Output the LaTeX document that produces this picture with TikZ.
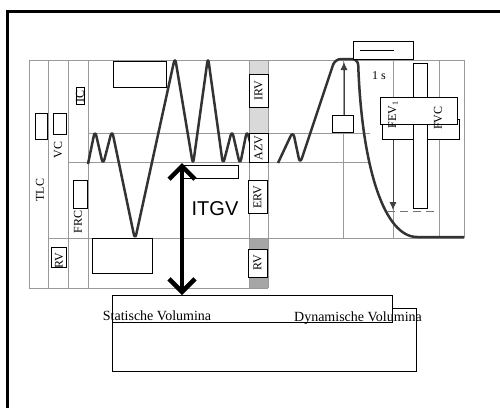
\documentclass[tikz,border=0pt]{standalone}
\usepackage{fontspec}
\setmainfont{Liberation Serif}
\newfontfamily\itgvfont{Liberation Sans}
\usetikzlibrary{arrows.meta}

\begin{document}
\begin{tikzpicture}[x=1pt, y=-1pt, font=\fontsize{12}{14}\selectfont,
                    >={Latex[length=8pt,width=7pt]}]
  \tikzset{grid/.style={draw=black!40, line width=0.7pt},
           blank/.style={draw, fill=white, line width=0.7pt, inner sep=0pt},
           vlab/.style={rotate=90, inner sep=0pt},
           vbox/.style={blank, rotate=90, minimum width=#1, minimum height=19pt},
           breath/.style={draw=black!80, line width=2.5pt, rounded corners=6pt,
                          line join=round}}
  \useasboundingbox (0,0) rectangle (500,407);
  % frame, cut off at the right and at the bottom
  \draw[line width=3pt] (7,412) -- (7,11) -- (505,11);

  % shaded parts of the volume strip
  \fill[black!15] (249,60) rectangle (268,74) (249,107) rectangle (268,133);
  \fill[black!35] (249,238) rectangle (268,249) (249,277) rectangle (268,288);

  % grid
  \draw[grid] (29,60) -- (464,60);
  \draw[grid] (88,133) -- (370,133);
  \draw[grid] (68,162) -- (370,162);
  \draw[grid] (48,238) -- (464,238);
  \draw[grid] (29,288) -- (268,288);
  \foreach \x in {29,48,68,88,249,268} \draw[grid] (\x,60) -- (\x,288);
  \foreach \x in {343,393,439,464} \draw[grid] (\x,60) -- (\x,238);

  % left columns
  \draw[blank] (35,113) rectangle (47,139);
  \node[vlab] (tlc) at (40,190) {TLC};
  \draw[blank] (53,113) rectangle (66,134);
  \node[vlab] (vc) at (58,150) {VC};
  \draw[blank] (51,247) rectangle (66,267);
  \node[vlab] (rvleft) at (59,261) {RV};
  \node[blank, rotate=90, minimum width=17pt, minimum height=8pt] (ic) at (80,96) {IC};
  \draw[blank] (73,180) rectangle (87,208);
  \node[vlab] (frc) at (78,222) {FRC};

  % static spirogram
  \draw[blank] (113,61) rectangle (166,87);
  \draw[blank] (92,238) rectangle (152,273);
  \draw[breath] (88,164) -- (95,130) -- (103,165) -- (112,130) -- (135,240)
    -- (175,57) -- (193,165) -- (208,57) -- (223,165) -- (232,130)
    -- (240,165) -- (247,130) -- (250,142);
  \draw[blank] (183,165) rectangle (238,178);

  \node[vbox=33pt] (irv) at (258.5,90.5) {IRV};
  \node[vbox=29pt] (azv) at (258.5,148) {AZV};
  \node[vbox=33pt] (erv) at (257.5,197) {ERV};
  \node[vbox=28pt] (rv) at (257.5,263) {RV};

  % forced expiration
  \draw[breath] (278,163) -- (293,131) -- (300,164) -- (335,59) -- (358,59)
    .. controls (362,170) and (385,237) .. (423,237) -- (464,237);
  \node[blank, minimum width=21pt, minimum height=17pt] (sq) at (342.5,123.5) {};
  \coordinate (peak) at (344,62);
  \draw[->, black!75, line width=0.8pt] (sq.north -| peak) -- (peak);

  \node[blank, anchor=north west, minimum width=60pt, minimum height=18pt] (scale) at (353,41) {};
  \draw[line width=1pt] ([xshift=7pt]scale.west) -- ([xshift=41pt]scale.west);
  \node (onesec) at (379,76) {1 s};

  \node[blank, anchor=north west, minimum width=77pt, minimum height=20pt] (fevback) at (382,119) {};
  \draw[blank] (413,63) rectangle (427,208);
  \node[blank, anchor=north west, minimum width=77pt, minimum height=27pt] (fevbox) at (380,97) {};
  \node[vlab] (fev) at (393,115) {FEV\textsubscript{1}};
  \node[vlab] (fvc) at (438,118) {FVC};
  \coordinate (fevend) at (393,210);
  \draw[->, black!75, line width=0.8pt] (fevend |- fevback.south) -- (fevend);
  \draw[black!55, dash pattern=on 8pt off 5pt, line width=0.8pt] (387,211) -- (438,211);

  % legend boxes
  \node[blank, anchor=north west, minimum width=304pt, minimum height=63pt] (dyn) at (112,308) {};
  \node[blank, anchor=north west, minimum width=280pt, minimum height=27pt] (stat) at (112,295) {};

  \coordinate (itgvtop) at (182,163);
  \draw[line width=4.5pt,
        {Straight Barb[length=13pt,width=26pt]}-{Straight Barb[length=13pt,width=26pt]}]
    (itgvtop) -- (itgvtop |- stat.north);
  \node[font=\itgvfont\fontsize{20}{24}\selectfont] (itgv) at (215,209) {ITGV};

  \node[font=\fontsize{14}{16}\selectfont, anchor=base] (stattext) at (157,320) {Statische Volumina};
  \node[font=\fontsize{14}{16}\selectfont, anchor=base] (dyntext) at (358,321) {Dynamische Volumina};
\end{tikzpicture}
\end{document}
